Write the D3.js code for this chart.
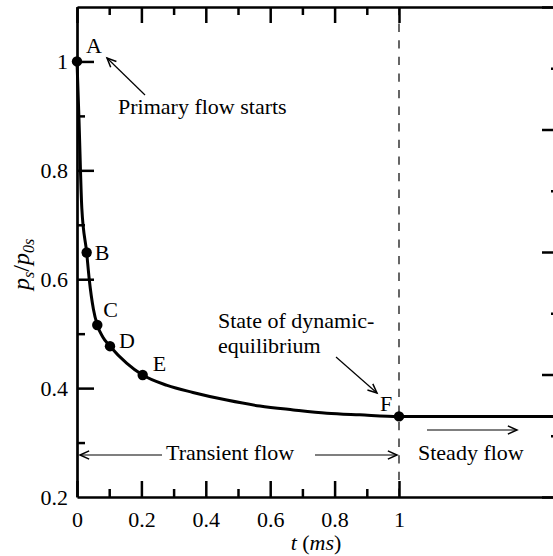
<!DOCTYPE html>
<html><head><meta charset="utf-8">
<script src="https://cdn.jsdelivr.net/npm/d3@7"></script>
<style>
html,body{margin:0;padding:0;background:#fff;}
svg text{font-family:"Liberation Serif","Times New Roman",serif;fill:#000;}
</style></head>
<body><svg id="c" width="553" height="556"></svg>
<script>
// ---- data ----
const curveT = [0, 0.006, 0.015, 0.030, 0.038, 0.051, 0.063, 0.080, 0.1025, 0.154, 0.204, 0.28, 0.36, 0.465, 0.568, 0.672, 0.776, 0.878, 1.0, 1.5];
const curveP = [1.0, 0.897, 0.73, 0.649, 0.600, 0.545, 0.516, 0.494, 0.477, 0.446, 0.424, 0.405, 0.392, 0.378, 0.367, 0.360, 0.354, 0.351, 0.348, 0.348];
const pointNames = ["A", "B", "C", "D", "E", "F"];
const pointT = [0, 0.030, 0.063, 0.1025, 0.204, 1.0];
const pointP = [1.0, 0.649, 0.516, 0.477, 0.424, 0.348];
const xMajorTicks = [0, 0.2, 0.4, 0.6, 0.8, 1];
const xMinorTicks = [0.1, 0.3, 0.5, 0.7, 0.9];
const xTickLabels = ["0", "0.2", "0.4", "0.6", "0.8", "1"];
const yMajorTicks = [0.2, 0.4, 0.6, 0.8, 1];
const yMinorTicks = [0.3, 0.5, 0.7, 0.9];
const yTickLabels = ["0.2", "0.4", "0.6", "0.8", "1"];
const rightMajorTicks = [0, 1, 2, 3, 4];
const rightMinorTicks = [0.5, 1.5, 2.5, 3.5];
const transitionT = 1.0;

// ---- layout ----
const svg = d3.select("#c");
const x = d3.scaleLinear().domain([0, 1.5]).range([77, 560]);
const y = d3.scaleLinear().domain([0.2, 1.1]).range([497, 7]);
const yR = d3.scaleLinear().domain([0, 4]).range([497, 7]);
const FS = 22;

function styleAxis(g, sw) {
  g.select(".domain").attr("stroke", "#000").attr("stroke-width", 2.7);
  g.selectAll(".tick line").attr("stroke", "#000").attr("stroke-width", sw);
  g.selectAll(".tick text").attr("font-size", FS).attr("font-family", '"Liberation Serif","Times New Roman",serif').attr("fill", "#000");
}

// dashed line at t = 1
svg.append("line").attr("x1", x(transitionT)).attr("x2", x(transitionT))
  .attr("y1", y(1.1)).attr("y2", y(0.2))
  .attr("stroke", "#000").attr("stroke-width", 1.2).attr("stroke-dasharray", "8.3,8.3");

// minor ticks
const gxMin = svg.append("g").attr("transform", `translate(0,${y(0.2)})`)
  .call(d3.axisBottom(x).tickValues(xMinorTicks).tickSize(-8).tickSizeOuter(0).tickFormat(""));
gxMin.select(".domain").remove(); styleAxis(gxMin, 2.5);
const gxtMin = svg.append("g").attr("transform", `translate(0,${y(1.1)})`)
  .call(d3.axisTop(x).tickValues(xMinorTicks).tickSize(-8).tickSizeOuter(0).tickFormat(""));
gxtMin.select(".domain").remove(); styleAxis(gxtMin, 2.5);
const gyMin = svg.append("g").attr("transform", `translate(${x(0)},0)`)
  .call(d3.axisLeft(y).tickValues(yMinorTicks).tickSize(-8).tickSizeOuter(0).tickFormat(""));
gyMin.select(".domain").remove(); styleAxis(gyMin, 2.5);
const grMin = svg.append("g").attr("transform", `translate(${x(1.5)},0)`)
  .call(d3.axisRight(yR).tickValues(rightMinorTicks).tickSize(-9).tickSizeOuter(0).tickFormat(""));
grMin.select(".domain").remove(); styleAxis(grMin, 2.5);

// major axes
const gx = svg.append("g").attr("transform", `translate(0,${y(0.2)})`)
  .call(d3.axisBottom(x).tickValues(xMajorTicks).tickSize(-16).tickSizeOuter(0).tickPadding(14)
    .tickFormat((d, i) => xTickLabels[i]));
styleAxis(gx, 2.5);
const gxt = svg.append("g").attr("transform", `translate(0,${y(1.1)})`)
  .call(d3.axisTop(x).tickValues(xMajorTicks).tickSize(-16).tickSizeOuter(0).tickFormat(""));
styleAxis(gxt, 2.5);
const gy = svg.append("g").attr("transform", `translate(${x(0)},0)`)
  .call(d3.axisLeft(y).tickValues(yMajorTicks).tickSize(-17).tickSizeOuter(0).tickPadding(9)
    .tickFormat((d, i) => yTickLabels[i]));
styleAxis(gy, 2.5);
gy.selectAll(".tick line").filter(d => d === 0.2).remove();
const gr = svg.append("g").attr("transform", `translate(${x(1.5)},0)`)
  .call(d3.axisRight(yR).tickValues(rightMajorTicks).tickSize(-18).tickSizeOuter(0).tickFormat(""));
styleAxis(gr, 2.5);

// curve
const pts = curveT.map((t, i) => [t, curveP[i]]);
svg.append("path").datum(pts)
  .attr("d", d3.line().x(d => x(d[0])).y(d => y(d[1])).curve(d3.curveMonotoneX))
  .attr("fill", "none").attr("stroke", "#000").attr("stroke-width", 3);

// points
const labelOff = {A: [9, -8], B: [8, 7], C: [6, -8], D: [9, 2], E: [10, -4], F: [-19, -5]};
pointNames.forEach((n, i) => {
  svg.append("circle").attr("cx", x(pointT[i])).attr("cy", y(pointP[i])).attr("r", 5.2).attr("fill", "#000");
  svg.append("text").attr("x", x(pointT[i]) + labelOff[n][0]).attr("y", y(pointP[i]) + labelOff[n][1])
    .attr("font-size", FS).text(n);
});

// arrows
function arrow(x1, y1, x2, y2, sw) {
  svg.append("line").attr("x1", x1).attr("y1", y1).attr("x2", x2).attr("y2", y2)
    .attr("stroke", "#000").attr("stroke-width", sw || 1.2);
  const a = Math.atan2(y2 - y1, x2 - x1), L = 10, h = 0.42;
  const p1 = [x2 - L * Math.cos(a - h), y2 - L * Math.sin(a - h)];
  const p2 = [x2 - L * Math.cos(a + h), y2 - L * Math.sin(a + h)];
  svg.append("path").attr("d", `M${p1}L${x2},${y2}L${p2}`)
    .attr("fill", "none").attr("stroke", "#000").attr("stroke-width", 1.5);
}

// annotations
svg.append("text").attr("x", 118).attr("y", 114).attr("font-size", FS).text("Primary flow starts");
arrow(145, 95, 107, 58);

svg.append("text").attr("x", 218).attr("y", 328).attr("font-size", FS).text("State of dynamic-");
svg.append("text").attr("x", 218).attr("y", 353).attr("font-size", FS).text("equilibrium");
arrow(336, 357, 377, 393);

svg.append("text").attr("x", 166).attr("y", 460).attr("font-size", FS).text("Transient flow");
arrow(162, 455, 80, 455);
arrow(315, 455, 397, 455);

svg.append("text").attr("x", 418).attr("y", 460).attr("font-size", FS).text("Steady flow");
arrow(427, 430, 517, 430);

// axis titles
const yl = svg.append("text").attr("transform", "translate(29,290) rotate(-90)").attr("font-size", 24);
yl.append("tspan").attr("font-style", "italic").text("p");
yl.append("tspan").attr("font-style", "italic").attr("font-size", 16).attr("dy", 5).text("s");
yl.append("tspan").attr("dy", -5).text("/");
yl.append("tspan").attr("font-style", "italic").text("p");
yl.append("tspan").attr("font-style", "italic").attr("font-size", 16).attr("dy", 5).text("0s");

const xl = svg.append("text").attr("x", 316).attr("y", 550).attr("text-anchor", "middle").attr("font-size", FS);
xl.append("tspan").attr("font-style", "italic").text("t");
xl.append("tspan").text(" (");
xl.append("tspan").attr("font-style", "italic").text("ms");
xl.append("tspan").text(")");
</script>
</body></html>
